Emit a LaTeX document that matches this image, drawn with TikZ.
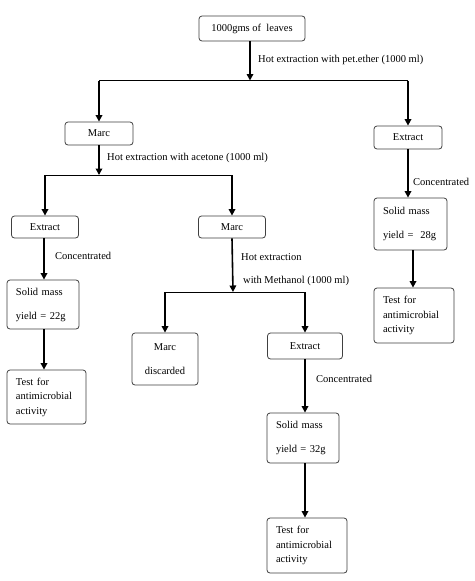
\documentclass[tikz,border=0pt]{standalone}
\usepackage{fontspec}
\setmainfont{Liberation Serif}
\usetikzlibrary{arrows.meta}
\begin{document}
\begin{tikzpicture}[x=1pt,y=-1pt,
  box/.style={draw=black!75, line width=0.8pt, rounded corners=3pt, inner sep=0pt, font=\fontsize{10.5}{12}\selectfont},
  lbox/.style={box, align=left, text width=#1},
  arr/.style={line width=1.6pt, -{Triangle[length=6.5pt,width=6.5pt]}},
  hline/.style={line width=1pt},
  lab/.style={anchor=west, inner sep=0pt, font=\fontsize{10.5}{12}\selectfont}]
\useasboundingbox[fill=white] (0,0) rectangle (474,581);
% boxes
\node[box, minimum width=106pt, minimum height=25pt] (top) at (252,28.5) {1000gms of\ \ leaves};
\node[box, minimum width=68pt, minimum height=23pt] (marc1) at (99,133.5) {Marc};
\node[box, minimum width=68pt, minimum height=23pt] (ext1) at (408,137.5) {Extract};
\node[box, minimum width=67pt, minimum height=22pt] (ext2) at (45,227) {Extract};
\node[box, minimum width=67pt, minimum height=22pt] (marc2) at (232,227) {Marc};
\node[lbox=55pt, minimum width=73pt, minimum height=52pt] (solid1) at (410.5,224) {Solid mass\\[12pt]yield =\ \ 28g};
\node[lbox=62pt, minimum width=80pt, minimum height=55pt, font=\fontsize{10.5}{14.5}\selectfont] (test1) at (414,315.5) {Test for\\antimicrobial\\activity};
\node[lbox=54pt, minimum width=72pt, minimum height=49pt] (solid2) at (43,304.5) {Solid mass\\[12pt]yield = 22g};
\node[lbox=61pt, minimum width=79pt, minimum height=54pt, font=\fontsize{10.5}{14.5}\selectfont] (test2) at (46.5,397) {Test for\\antimicrobial\\activity};
\node[box, align=center, minimum width=66pt, minimum height=52pt] (disc) at (165,359) {Marc\\[12pt]discarded};
\node[box, minimum width=75pt, minimum height=26pt] (ext3) at (305,346) {Extract};
\node[lbox=54pt, minimum width=72pt, minimum height=50pt] (solid3) at (303,438) {Solid mass\\[12pt]yield = 32g};
\node[lbox=62pt, minimum width=80pt, minimum height=55pt, font=\fontsize{10.5}{14.5}\selectfont] (test3) at (307,545.5) {Test for\\antimicrobial\\activity};
% junctions
\coordinate (j1) at (250,80.5);
\coordinate (j2) at (99,175);
\coordinate (j3) at (233,292);
% level 1
\draw[arr] (top.south -| j1) -- (j1);
\draw[hline] (marc1.north |- j1) -- (ext1.north |- j1);
\draw[arr] (marc1.north |- j1) -- (marc1.north);
\draw[arr] (ext1.north |- j1) -- (ext1.north);
% level 2 left
\draw[arr] (marc1.south) -- (j2);
\draw[hline] (ext2.north |- j2) -- (marc2.north |- j2);
\draw[arr] (ext2.north |- j2) -- (ext2.north);
\draw[arr] (marc2.north |- j2) -- (marc2.north);
% right column
\draw[arr] (ext1.south) -- (ext1.south |- solid1.north);
\draw[arr] (solid1.south -| 413,0) -- (test1.north -| 413,0);
% left column
\draw[arr] (ext2.south -| 44,0) -- (solid2.north -| 44,0);
\draw[arr] (solid2.south -| 44,0) -- (test2.north -| 44,0);
% middle
\draw[arr] (marc2.south) -- (j3);
\draw[hline] (disc.north |- j3) -- (ext3.north |- j3);
\draw[arr] (disc.north |- j3) -- (disc.north);
\draw[arr] (ext3.north |- j3) -- (ext3.north);
\draw[arr] (ext3.south) -- (ext3.south |- solid3.north);
\draw[arr] (solid3.south -| ext3.south) -- (test3.north -| ext3.south);
% labels
\node[lab] (l1) at (258,60) {Hot extraction with pet.ether (1000 ml)};
\node[lab] (l2) at (107,158) {Hot extraction with acetone (1000 ml)};
\node[lab] (l3) at (413,182) {Concentrated};
\node[lab] (l4) at (55,256) {Concentrated};
\node[lab] (l5) at (241,257) {Hot extraction};
\node[lab] (l6) at (243,281) {with Methanol (1000 ml)};
\node[lab] (l7) at (316,379) {Concentrated};
\end{tikzpicture}
\end{document}
